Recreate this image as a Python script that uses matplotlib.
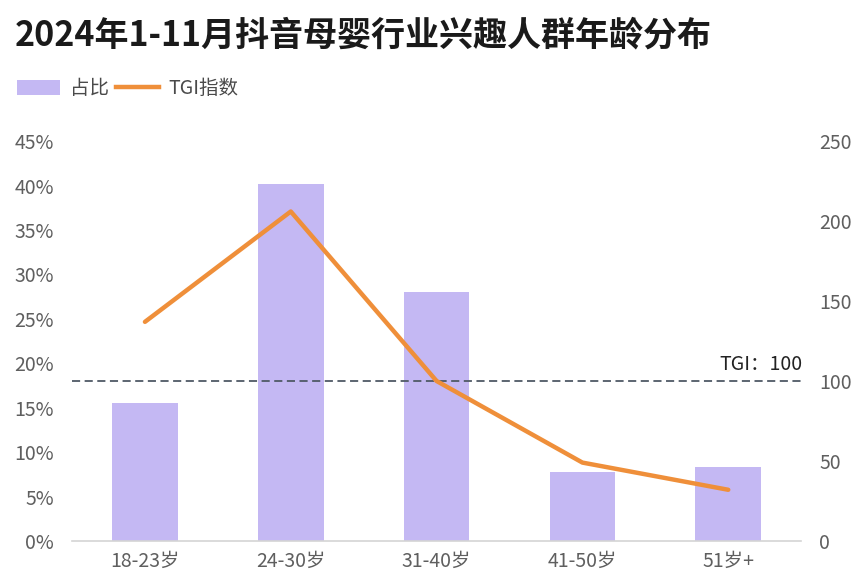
import matplotlib
matplotlib.use("Agg")
import matplotlib.pyplot as plt
from matplotlib.lines import Line2D
from matplotlib.patches import Patch

plt.rcParams['font.family'] = ['Noto Sans CJK SC', 'DejaVu Sans']

categories = ["18-23岁", "24-30岁", "31-40岁", "41-50岁", "51岁+"]
share_pct = [15.5, 40.2, 28.0, 7.8, 8.3]
tgi = [137, 206, 100, 49, 32]
left_ticks = [0, 5, 10, 15, 20, 25, 30, 35, 40, 45]
right_ticks = [0, 50, 100, 150, 200, 250]

bar_color = "#c4b8f3"
line_color = "#ef8f3a"
tick_color = "#5f5f5f"

fig = plt.figure(figsize=(8.68, 5.88), dpi=100)
ax = fig.add_axes([0.083, 0.080, 0.840, 0.680])
x = list(range(len(categories)))
ax.bar(x, share_pct, width=0.45, color=bar_color, zorder=2)
ax.set_xlim(-0.5, len(categories) - 0.5)
ax.set_ylim(0, 45)
ax.set_yticks(left_ticks)
ax.set_yticklabels([f"{v}%" for v in left_ticks])
ax.set_xticks(x)
ax.set_xticklabels(categories)
for s in ["top", "right", "left"]:
    ax.spines[s].set_visible(False)
ax.spines["bottom"].set_color("#d4d4d4")
ax.spines["bottom"].set_linewidth(1.2)
ax.tick_params(axis="both", length=0, labelsize=14, colors=tick_color)
ax.tick_params(axis="x", pad=7)
ax.tick_params(axis="y", pad=13)

ax2 = ax.twinx()
ax2.set_ylim(0, 250)
ax2.set_yticks(right_ticks)
for s in ["top", "right", "left", "bottom"]:
    ax2.spines[s].set_visible(False)
ax2.tick_params(axis="y", length=0, labelsize=14, colors=tick_color, pad=13)
ax2.plot(x, tgi, color=line_color, linewidth=3.2, zorder=4, solid_capstyle="round")
ax2.axhline(100, color="#4f5966", linestyle=(0, (4.5, 2.5)), linewidth=1.3, zorder=3)
ax2.text(len(categories) - 0.5 + 0.01, 104, "TGI：100", ha="right", va="bottom",
         fontsize=14, color="#222222")

fig.text(0.017, 0.940, "2024年1-11月抖音母婴行业兴趣人群年龄分布", fontsize=24.5,
         fontweight="heavy", color="#1a1a1a", va="center", ha="left")

handles = [Patch(facecolor=bar_color, edgecolor="none"),
           Line2D([0], [0], color=line_color, linewidth=3.2)]
leg = fig.legend(handles, ["占比", "TGI指数"], loc="center left",
                 bbox_to_anchor=(0.0196, 0.849), ncol=2, frameon=False,
                 fontsize=14, handlelength=2.2, handleheight=0.75,
                 columnspacing=0.4, handletextpad=0.5,
                 borderpad=0, borderaxespad=0)
for t in leg.get_texts():
    t.set_color("#4a4a4a")

fig.savefig("out.png", dpi=100)
